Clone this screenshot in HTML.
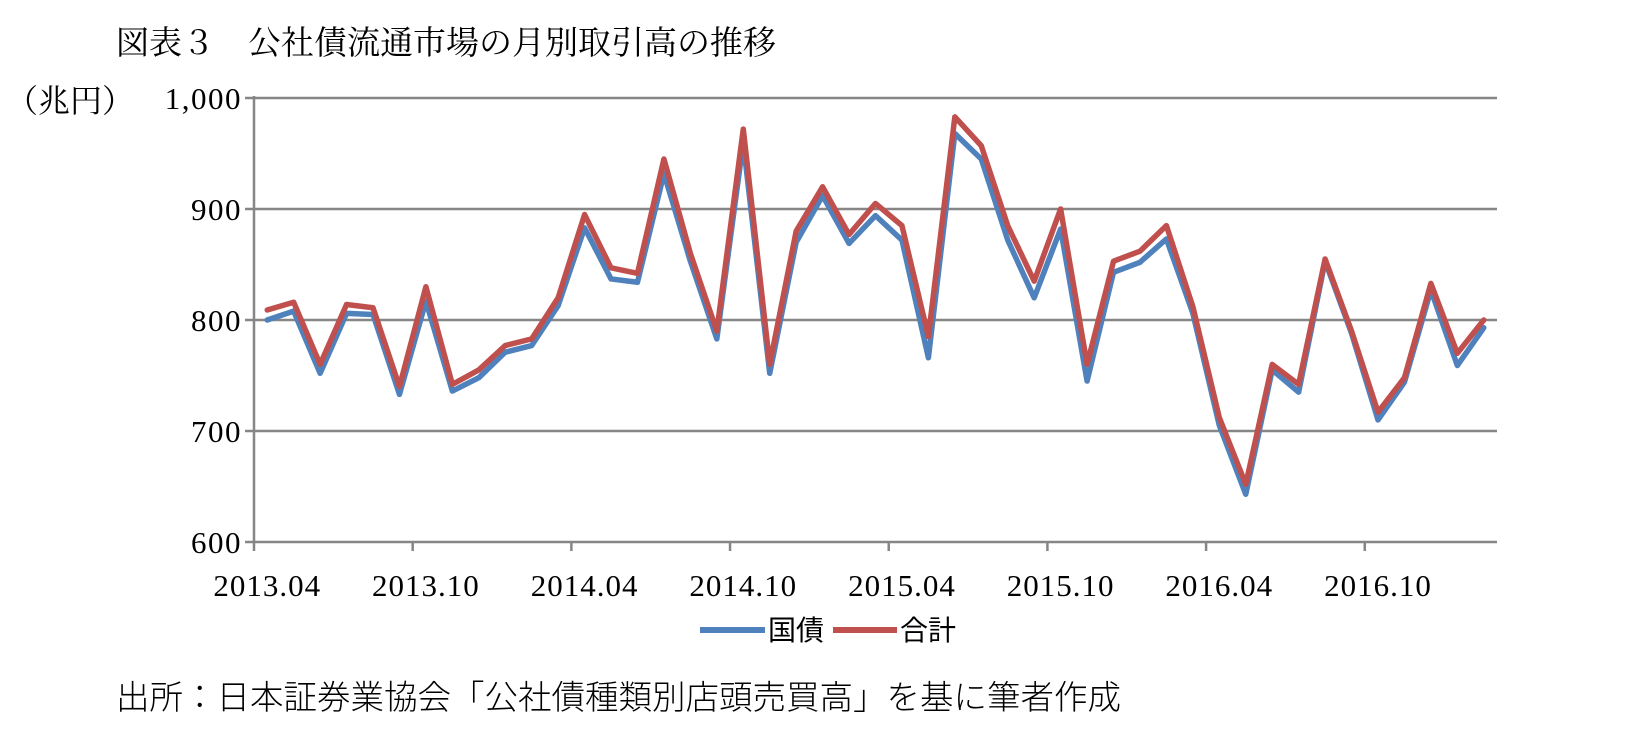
<!DOCTYPE html>
<html><head><meta charset="utf-8">
<style>
html,body{margin:0;padding:0;background:#fff;}
body{width:1632px;height:742px;overflow:hidden;position:relative;font-family:"Liberation Serif","Noto Serif CJK JP","Noto Serif CJK SC",serif;}
.t{position:absolute;white-space:nowrap;color:#000;}
</style></head>
<body>
<div class="t" style="left:116px;top:17px;font-size:33px;">図表３　公社債流通市場の月別取引高の推移</div>
<div class="t" style="left:6px;top:76px;font-size:32px;">（兆円）</div>
<svg id="chart" width="1632" height="742" style="position:absolute;left:0;top:0;"></svg>
<div class="t" style="left:116px;top:670px;font-size:33.5px;font-family:'Noto Sans CJK JP','Liberation Sans',sans-serif;font-weight:300;">出所：日本証券業協会「公社債種類別店頭売買高」を基に筆者作成</div>
<script>
const categories=["2013.04","2013.05","2013.06","2013.07","2013.08","2013.09","2013.10","2013.11","2013.12","2014.01","2014.02","2014.03","2014.04","2014.05","2014.06","2014.07","2014.08","2014.09","2014.10","2014.11","2014.12","2015.01","2015.02","2015.03","2015.04","2015.05","2015.06","2015.07","2015.08","2015.09","2015.10","2015.11","2015.12","2016.01","2016.02","2016.03","2016.04","2016.05","2016.06","2016.07","2016.08","2016.09","2016.10","2016.11","2016.12","2017.01","2017.02"];
const jgbValues=[800,808,752,806,805,733,817,736,748,771,777,813,883,837,834,932,853,783,960,752,870,912,869,894,872,766,968,945,872,820,882,745,843,852,873,806,705,643,755,735,853,788,710,744,827,759,793];
const totalValues=[809,816,760,814,811,740,830,742,755,777,783,820,895,847,842,945,860,790,972,760,880,920,877,905,885,785,983,957,885,835,900,760,853,862,885,812,712,652,760,742,855,790,717,748,833,770,800];
const yTicks=[600,700,800,900,1000];
const yTickLabels=["600","700","800","900","1,000"];
const seriesNames=["国債","合計"];

const NS="http://www.w3.org/2000/svg";
const svg=document.getElementById('chart');
const L=254,R=1497,T=98,B=542,yMin=600,yMax=1000;
const n=categories.length, cw=(R-L)/n;
function xPos(i){return L+cw*(i+0.5);}
function yPos(v){return B-(v-yMin)/(yMax-yMin)*(B-T);}
function mk(tag,attrs){const e=document.createElementNS(NS,tag);for(const k in attrs)e.setAttribute(k,attrs[k]);svg.appendChild(e);return e;}

yTicks.forEach((v,i)=>{
  const g=mk('line',{x1:L-9,x2:R,y1:yPos(v),y2:yPos(v),stroke:'#868686','stroke-width':2.5});
  
  
  const t=mk('text',{x:L-12,y:yPos(v)+11,'text-anchor':'end','font-size':31,'letter-spacing':1.5,'font-family':'Liberation Serif, serif'});
  t.textContent=yTickLabels[i];
  
  
});
const ya=mk('line',{x1:L,x2:L,y1:T-2,y2:B+9,stroke:'#868686','stroke-width':2.5});


for(let i=0;i<n;i+=6){
  if(i>0){
    const tk=mk('line',{x1:L+cw*i,x2:L+cw*i,y1:B,y2:B+9,stroke:'#868686','stroke-width':2.5});
    
    
  }
  const t=mk('text',{x:xPos(i),y:B+54,'text-anchor':'middle','font-size':31,'letter-spacing':1,'font-family':'Liberation Serif, serif'});
  t.textContent=categories[i];
  
  
}
function line(vals,color,name){
  const p=mk('polyline',{points:vals.map((v,i)=>xPos(i)+','+yPos(v)).join(' '),fill:'none',stroke:color,'stroke-width':5.5,'stroke-linejoin':'round','stroke-linecap':'round'});
  
  
}
line(jgbValues,'#4f81bd','series-jgb-line');
line(totalValues,'#c0504d','series-total-line');
const lg=[{x1:700,x2:765,tx:768,c:'#4f81bd'},{x1:833,x2:897,tx:900,c:'#c0504d'}];
lg.forEach((d,i)=>{
  const l=mk('line',{x1:d.x1,x2:d.x2,y1:630,y2:630,stroke:d.c,'stroke-width':6});
  
  
  const t=mk('text',{x:d.tx,y:640,'font-size':28,'font-family':'Noto Sans CJK JP, sans-serif'});
  t.textContent=seriesNames[i];
  
  
});
</script>
</body></html>
